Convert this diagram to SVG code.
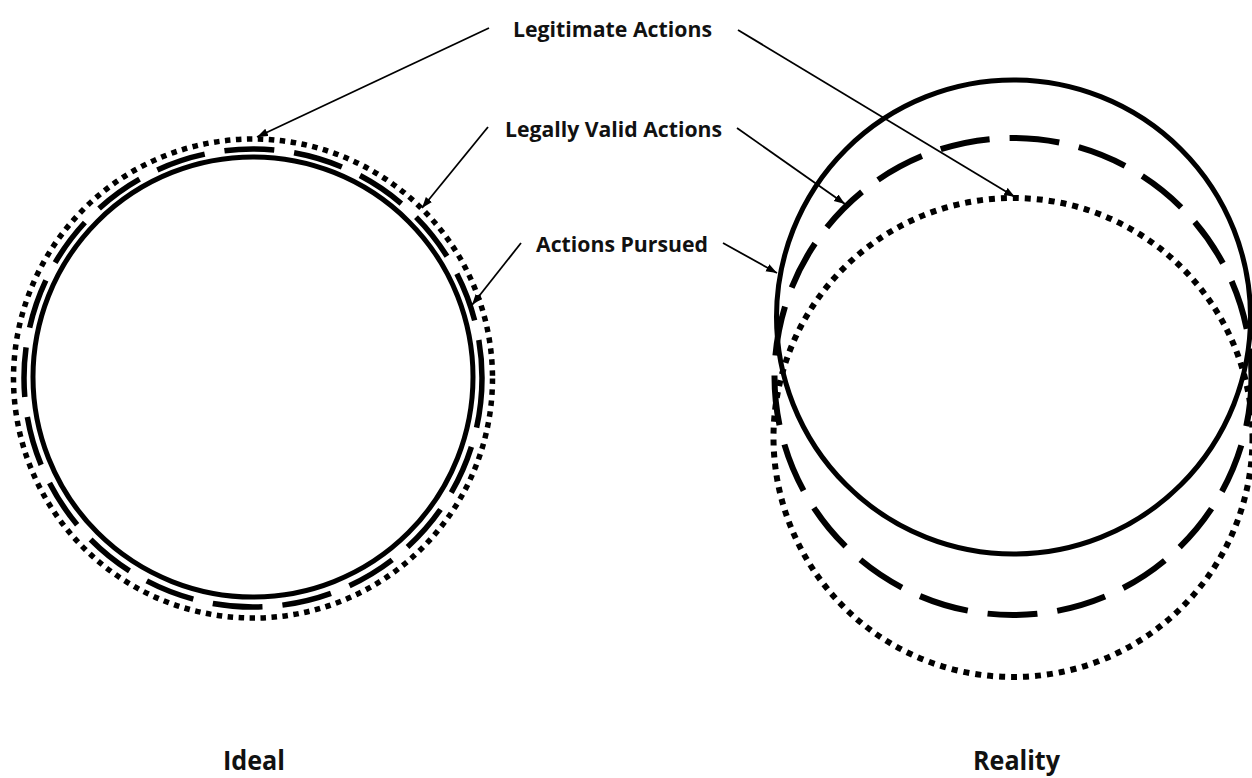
<svg xmlns="http://www.w3.org/2000/svg" width="1252" height="778" viewBox="0 0 1252 778">
<style>
  .lbl { font-family: "Open Sans", "Liberation Sans", sans-serif; font-weight: bold; font-size: 21.5px; fill: #111; }
  .title { font-family: "Open Sans", "Liberation Sans", sans-serif; font-weight: bold; font-size: 26px; fill: #111; }
  .solid { fill: none; stroke: #000; stroke-width: 5; }
  .dash { fill: none; stroke: #000; stroke-width: 5.5; stroke-dasharray: 50 20; }
  .dot { fill: none; stroke: #000; stroke-width: 5.5; stroke-dasharray: 5.5 5.5; }
  .conn { fill: none; stroke: #000; stroke-width: 1.8; marker-end: url(#arrow); }
</style>
<defs>
  <marker id="arrow" markerUnits="userSpaceOnUse" markerWidth="12" markerHeight="10" refX="11" refY="4" orient="auto">
    <path d="M0,0 L11,4 L0,8 z" fill="#000"/>
  </marker>
</defs>
<rect width="1252" height="778" fill="#fff"/>

<g id="ideal">
  <circle class="dot" cx="253" cy="378.5" r="239.5"/>
  <circle class="dash" cx="253" cy="378" r="229"/>
  <circle class="solid" cx="253" cy="377" r="220"/>
  <text class="title" x="254" y="770" text-anchor="middle" textLength="62" lengthAdjust="spacingAndGlyphs">Ideal</text>
</g>

<g id="reality">
  <circle class="solid" cx="1013.5" cy="317" r="237"/>
  <circle class="dash" cx="1013" cy="376.5" r="238.5" style="stroke-width:6"/>
  <circle class="dot" cx="1013" cy="437.5" r="239.5" style="stroke-width:6; stroke-dasharray: 6 6"/>
  <text class="title" x="1016.5" y="770" text-anchor="middle" textLength="87" lengthAdjust="spacingAndGlyphs">Reality</text>
</g>

<g id="label-legitimate">
  <text class="lbl" x="612.5" y="37" text-anchor="middle" textLength="199" lengthAdjust="spacingAndGlyphs">Legitimate Actions</text>
</g>
<g id="label-legally-valid">
  <text class="lbl" x="613.5" y="137" text-anchor="middle" textLength="217" lengthAdjust="spacingAndGlyphs">Legally Valid Actions</text>
</g>
<g id="label-pursued">
  <text class="lbl" x="622" y="252" text-anchor="middle" textLength="172" lengthAdjust="spacingAndGlyphs">Actions Pursued</text>
</g>

<g id="connectors">
  <line class="conn" x1="489" y1="28" x2="257" y2="137"/>
  <line class="conn" x1="738" y1="30" x2="1015" y2="197"/>
  <line class="conn" x1="488" y1="127" x2="422" y2="208"/>
  <line class="conn" x1="737" y1="128" x2="845" y2="204"/>
  <line class="conn" x1="521" y1="243" x2="472" y2="305"/>
  <line class="conn" x1="723" y1="243" x2="777" y2="273"/>
</g>
</svg>
